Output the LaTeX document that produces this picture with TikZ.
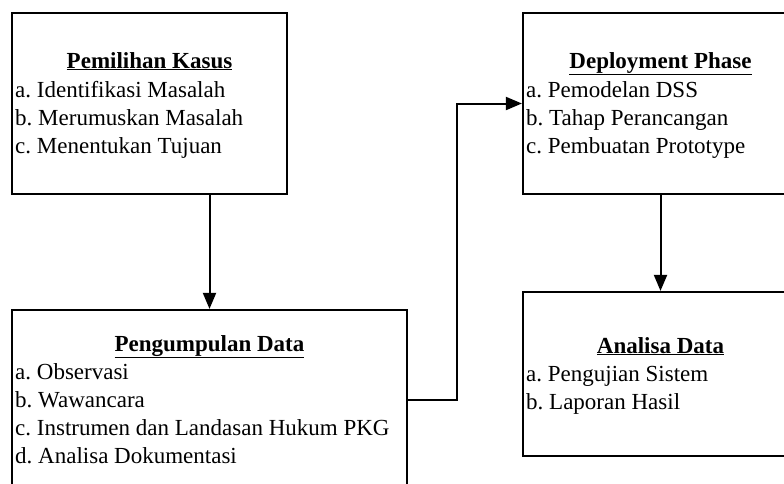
\documentclass[tikz,border=0pt]{standalone}
\usepackage{fontspec}
\setmainfont{Liberation Serif}
\usetikzlibrary{calc,arrows.meta,positioning}
\frenchspacing

\begin{document}
\begin{tikzpicture}[x=1pt, y=-1pt,
        box/.style={draw, line width=2.2pt, rectangle, inner sep=0pt},
        heading/.style={anchor=base, inner sep=0pt, font=\bfseries\fontsize{23}{28}\selectfont},
        entry/.style={anchor=base west, inner sep=0pt, font=\fontsize{23}{28}\selectfont},
        link/.style={line width=2pt, -{Triangle[length=16pt, width=13pt]}}]
        % Line spacing inside the boxes
        \pgfmathsetmacro{\gap}{28}

        % Page frame
        \useasboundingbox (0, 0) rectangle (784, 483);

        % Boxes
        \node[box, minimum width=275pt, minimum height=181pt] (kasus) at (149.5, 103.5) {};
        \node[box, minimum width=395pt, minimum height=180pt] (data) at (209.5, 400) {};
        \node[box, minimum width=275pt, minimum height=181pt] (deploy) at (660.5, 103.5) {};
        \node[box, minimum width=275pt, minimum height=164pt] (analisa) at (660.5, 374) {};

        % Pemilihan Kasus
        \node[heading] (kasusT) at (kasus.center |- 0, 68) {\underline{Pemilihan Kasus}};
        \foreach \txt [count=\i from 0] in {a. Identifikasi Masalah, b. Merumuskan Masalah, c. Menentukan Tujuan}
            \node[entry] (kasus\i) at (15, 97 + \gap*\i) {\txt};

        % Pengumpulan Data
        \node[heading] (dataT) at (data.center |- 0, 351) {\underline{Pengumpulan Data}};
        \foreach \txt [count=\i from 0] in {a. Observasi, b. Wawancara, c. Instrumen dan Landasan Hukum PKG, d. Analisa Dokumentasi}
            \node[entry] (data\i) at (15, 379 + \gap*\i) {\txt};

        % Deployment Phase
        \node[heading] (deployT) at (deploy.center |- 0, 68) {\underline{Deployment Phase}};
        \foreach \txt [count=\i from 0] in {a. Pemodelan DSS, b. Tahap Perancangan, c. Pembuatan Prototype}
            \node[entry] (deploy\i) at (526, 97 + \gap*\i) {\txt};

        % Analisa Data
        \node[heading] (analisaT) at (analisa.center |- 0, 353) {\underline{Analisa Data}};
        \foreach \txt [count=\i from 0] in {a. Pengujian Sistem, b. Laporan Hasil}
            \node[entry] (analisa\i) at (526, 381 + \gap*\i) {\txt};

        % Connectors
        \draw[link] (data.north |- kasus.south) -- (data.north);
        \draw[link] (data.east) -- ++(49, 0) |- (deploy.west);
        \draw[link] (deploy.south) -- (analisa.north);

    \end{tikzpicture}
\end{document}
